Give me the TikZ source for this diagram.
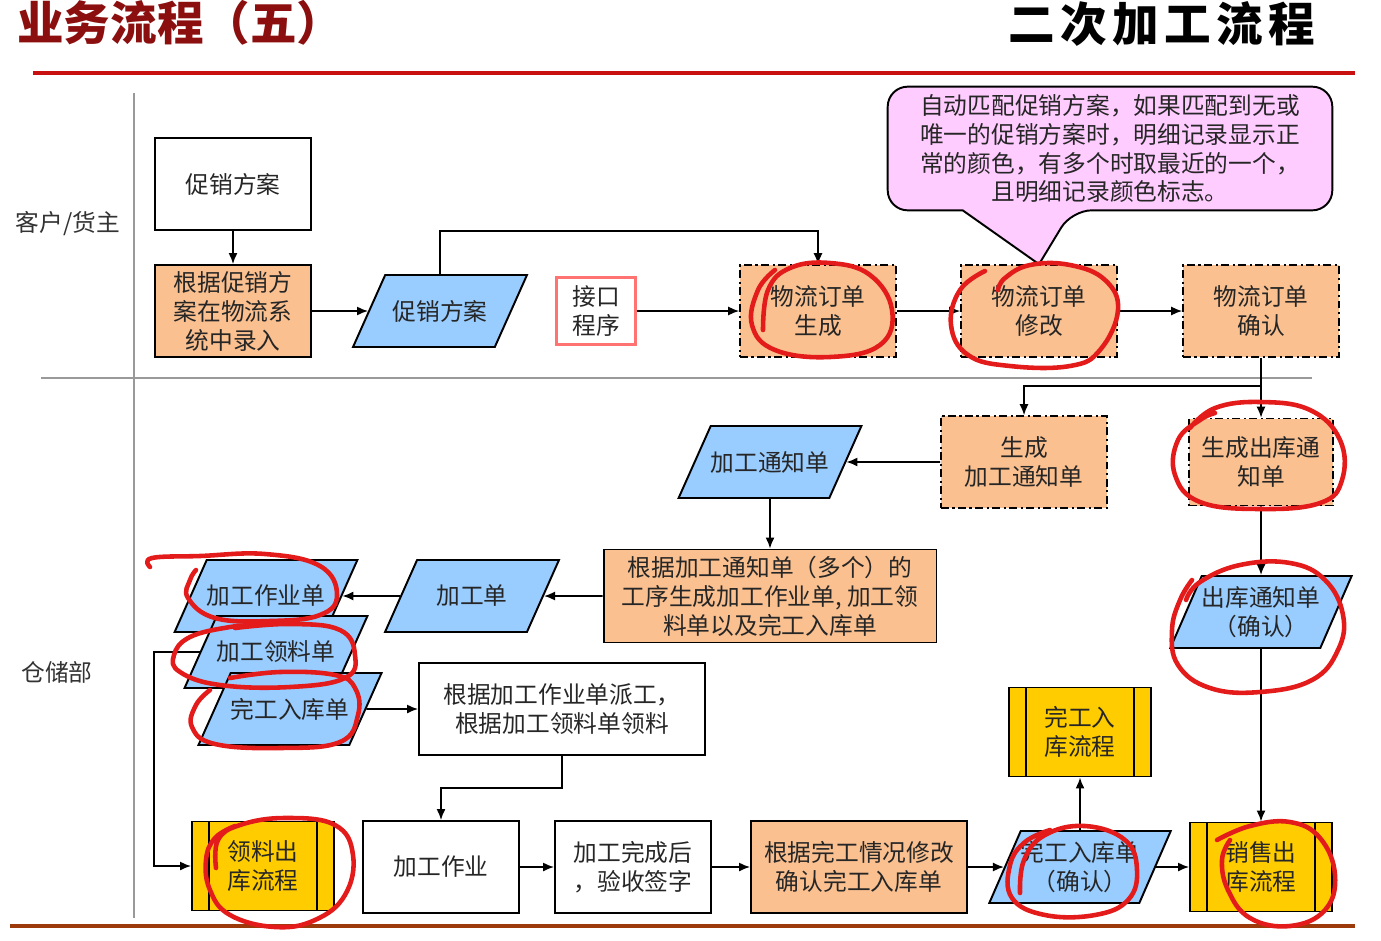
\documentclass[tikz,border=0pt]{standalone}
\usepackage{fontspec}
\setmainfont{Noto Sans CJK SC}
\usetikzlibrary{arrows.meta,shapes.geometric,backgrounds}
\definecolor{boxorange}{HTML}{FAC090}
\definecolor{docblue}{HTML}{99CCFF}
\definecolor{procyellow}{HTML}{FFCC00}
\definecolor{notepink}{HTML}{FFCCFF}
\definecolor{titlered}{HTML}{8B0F0F}
\definecolor{rulered}{HTML}{C81010}
\definecolor{rulebrown}{HTML}{9C3A0C}
\definecolor{penred}{HTML}{E41B1B}
\begin{document}
\begin{tikzpicture}[x=0.02cm, y=-0.02cm,
  txt/.style={font=\fontsize{13.5}{16.5}\selectfont, text=black!85, align=center, inner sep=0pt},
  plain/.style={txt, draw, line width=1.1pt, minimum width=3.12cm, minimum height=1.84cm},
  work/.style={plain, fill=boxorange},
  sysbox/.style={txt, draw, fill=boxorange, line width=0.9pt, dash pattern=on 4.5pt off 2pt on 1.2pt off 2pt, minimum width=3.12cm, minimum height=1.84cm},
  doc/.style={txt, trapezium, trapezium left angle=65, trapezium right angle=115, trapezium stretches body, draw, fill=docblue, line width=1.1pt, minimum width=3.48cm, minimum height=1.44cm, inner ysep=0.47cm},
  doctwo/.style={doc, inner ysep=0.16cm},
  subproc/.style={txt, draw, fill=procyellow, line width=1.1pt, minimum width=2.84cm, minimum height=1.78cm,
    path picture={\draw[line width=0.8pt] ([xshift=0.34cm]path picture bounding box.north west) -- ([xshift=0.34cm]path picture bounding box.south west)
      ([xshift=-0.34cm]path picture bounding box.north east) -- ([xshift=-0.34cm]path picture bounding box.south east);}},
  arr/.style={-{Latex[length=2.2mm,width=1.8mm]}, line width=0.9pt},
  lane/.style={draw=gray!80, line width=1.3pt},
  pen/.style={draw=penred, line width=2.6pt, line cap=round, line join=round}
]
  \useasboundingbox (0,0) rectangle (1381,940);

  \node[font=\fontsize{26.5}{30}\selectfont\bfseries, text=titlered, anchor=west, inner sep=0pt] (title) at (17,23) {业务流程（五）};
  \node[font=\fontsize{26.5}{30}\selectfont\bfseries, anchor=east, inner sep=0pt] (subtitle) at (1315,24)
    {二\hspace{3pt}次\hspace{3pt}加\hspace{3pt}工\hspace{3pt}流\hspace{3pt}程};
  \draw[rulered, line width=2.3pt] (33,73) -- (1355,73);
  \draw[rulebrown, line width=2.6pt] (10,926) -- (1355,926);

  \draw[lane] (134,93) -- (134,918);
  \draw[lane] (41,378) -- (1312,378);
  \node[font=\fontsize{13.5}{16}\selectfont, text=black!80] (kehu) at (68,224) {客户/货主};
  \node[font=\fontsize{13.5}{16}\selectfont, text=black!80] (cangchu) at (57,672) {仓储部};

  \node[plain] (cxfa) at (233,184) {促销方案};
  \node[work] (luru) at (233,311) {根据促销方\\案在物流系\\统中录入};
  \node[doc] (cxdoc) at (440,311) {促销方案};
  \node[txt, draw=red!55, line width=1.2pt, minimum width=1.58cm, minimum height=1.34cm] (jiekou) at (596,311) {接口\\程序};
  \node[sysbox] (scdd) at (818,311) {物流订单\\生成};
  \node[sysbox] (xgdd) at (1039,311) {物流订单\\修改};
  \node[sysbox] (qrdd) at (1261,311) {物流订单\\确认};
  \node[txt, minimum width=8.88cm, minimum height=2.46cm] (note) at (1110,148.5)
    {自动匹配促销方案，如果匹配到无或\\唯一的促销方案时，明细记录显示正\\常的颜色，有多个时取最近的一个，\\且明细记录颜色标志。};
  \begin{scope}[on background layer]
    \draw[fill=notepink, line width=1.1pt] (note.west) [rounded corners=0.4cm] |- (note.north east) |- ([xshift=3.68cm]note.south west)
      [sharp corners] -- (xgdd.north) -- ([xshift=1.5cm]note.south west) [rounded corners=0.4cm] -| (note.west) [sharp corners] -- cycle;
  \end{scope}

  \node[sysbox, minimum width=3.32cm] (scjg) at (1024,462) {生成\\加工通知单};
  \node[sysbox, minimum width=2.88cm, minimum height=1.74cm] (scck) at (1261,462) {生成出库通\\知单};
  \node[doc] (jgtz) at (770,462) {加工通知单};
  \node[work, minimum width=6.66cm, minimum height=1.86cm] (gxsc) at (770,596) {根据加工通知单（多个）的\\工序生成加工作业单, 加工领\\料单以及完工入库单};
  \node[doc] (jgd) at (472,596) {加工单};
  \node[doc] (zyd) at (266,596) {加工作业单};
  \node[doc] (lld) at (276,652) {加工领料单};
  \node[doc] (wgrk) at (290,709) {完工入库单};
  \node[plain, minimum width=5.72cm] (paigong) at (562,709) {根据加工作业单派工，\\根据加工领料单领料};
  \node[doctwo] (cktz) at (1261,612) {出库通知单\\（确认）};
  \node[subproc] (wgrklc) at (1080,732) {完工入\\库流程};
  \node[subproc] (llck) at (263,866) {领料出\\库流程};
  \node[plain] (jgzy) at (441,867) {加工作业};
  \node[plain] (yanshou) at (633,867) {加工完成后\\，验收签字};
  \node[work, minimum width=4.32cm] (xgqr) at (859,867) {根据完工情况修改\\确认完工入库单};
  \node[doctwo] (wgqr) at (1080,867) {完工入库单\\（确认）};
  \node[subproc] (xsck) at (1261,867) {销售出\\库流程};

  \coordinate (fork) at (1261,386);
  \coordinate (bend) at (154,866);

  \draw[arr] (cxfa) -- (luru);
  \draw[arr] (luru) -- (cxdoc);
  \draw[arr] (cxdoc.north) -- (cxdoc.north |- cxfa.south) -| (scdd.north);
  \draw[arr] (jiekou) -- (scdd);
  \draw[arr] (scdd) -- (xgdd);
  \draw[arr] (xgdd) -- (qrdd);
  \draw[line width=0.9pt] (qrdd.south) -- (fork);
  \draw[arr] (fork) -| (scjg.north);
  \draw[arr] (fork) -- (scck.north);
  \draw[arr] (scjg) -- (jgtz);
  \draw[arr] (jgtz) -- (gxsc);
  \draw[arr] (gxsc) -- (jgd);
  \draw[arr] (jgd) -- (zyd);
  \draw[arr] (wgrk) -- (paigong);
  \draw[arr] (lld.west) -| (bend) -- (llck);
  \draw[arr] (paigong.south) -- ++(0,32) -| (jgzy.north);
  \draw[arr] (jgzy) -- (yanshou);
  \draw[arr] (yanshou) -- (xgqr);
  \draw[arr] (xgqr) -- (wgqr);
  \draw[arr] (wgqr) -- (wgrklc);
  \draw[arr] (wgqr) -- (xsck);
  \draw[arr] (scck) -- (cktz);
  \draw[arr] (cktz) -- (xsck);

  \draw[pen] plot[smooth, tension=0.7] coordinates {(763,330) (768,290) (790,268) (830,263) (870,275) (892,310) (880,345) (830,357) (775,350) (752,325) (758,290) (775,270)};
  \draw[pen] plot[smooth, tension=0.7] coordinates {(985,271) (960,290) (951,325) (968,355) (1010,366) (1070,366) (1100,350) (1118,310) (1105,280) (1070,265) (1030,265) (1005,278) (998,290)};
  \draw[pen] plot[smooth, tension=0.7] coordinates {(1190,428) (1215,408) (1260,402) (1310,410) (1340,440) (1342,480) (1320,503) (1260,509) (1200,502) (1175,475) (1178,440) (1200,420) (1215,413)};
  \draw[pen] plot[smooth, tension=0.7] coordinates {(1186,600) (1200,582) (1240,565) (1290,563) (1325,580) (1343,615) (1338,650) (1312,680) (1260,692) (1210,688) (1178,665) (1172,630) (1180,600) (1192,580)};
  \draw[pen] plot[smooth, tension=0.7] coordinates {(150,567) (152,558) (200,556) (265,554) (320,566) (337,595) (320,615) (270,621) (215,618) (188,598) (190,580) (196,570)};
  \draw[pen] plot[smooth, tension=0.7] coordinates {(235,628) (290,624) (340,630) (355,655) (345,678) (290,687) (220,685) (180,672) (174,655) (190,637) (230,627) (260,625)};
  \draw[pen] plot[smooth, tension=0.7] coordinates {(210,690) (196,705) (192,727) (215,744) (280,748) (340,742) (358,715) (355,688) (335,675) (280,672) (230,678)};
  \draw[pen] plot[smooth, tension=0.7] coordinates {(216,868) (218,840) (240,825) (285,818) (335,825) (353,855) (345,895) (315,920) (275,927) (230,915) (210,890) (206,860) (215,838) (235,826)};
  \draw[pen] plot[smooth, tension=0.7] coordinates {(1020,893) (1024,860) (1045,835) (1085,826) (1125,840) (1137,870) (1128,900) (1095,915) (1045,915) (1012,898) (1010,865) (1025,842) (1050,830)};
  \draw[pen] plot[smooth, tension=0.7] coordinates {(1217,840) (1250,826) (1290,822) (1320,838) (1335,875) (1325,910) (1290,926) (1250,918) (1228,890) (1222,860) (1230,840)};
\end{tikzpicture}
\end{document}
